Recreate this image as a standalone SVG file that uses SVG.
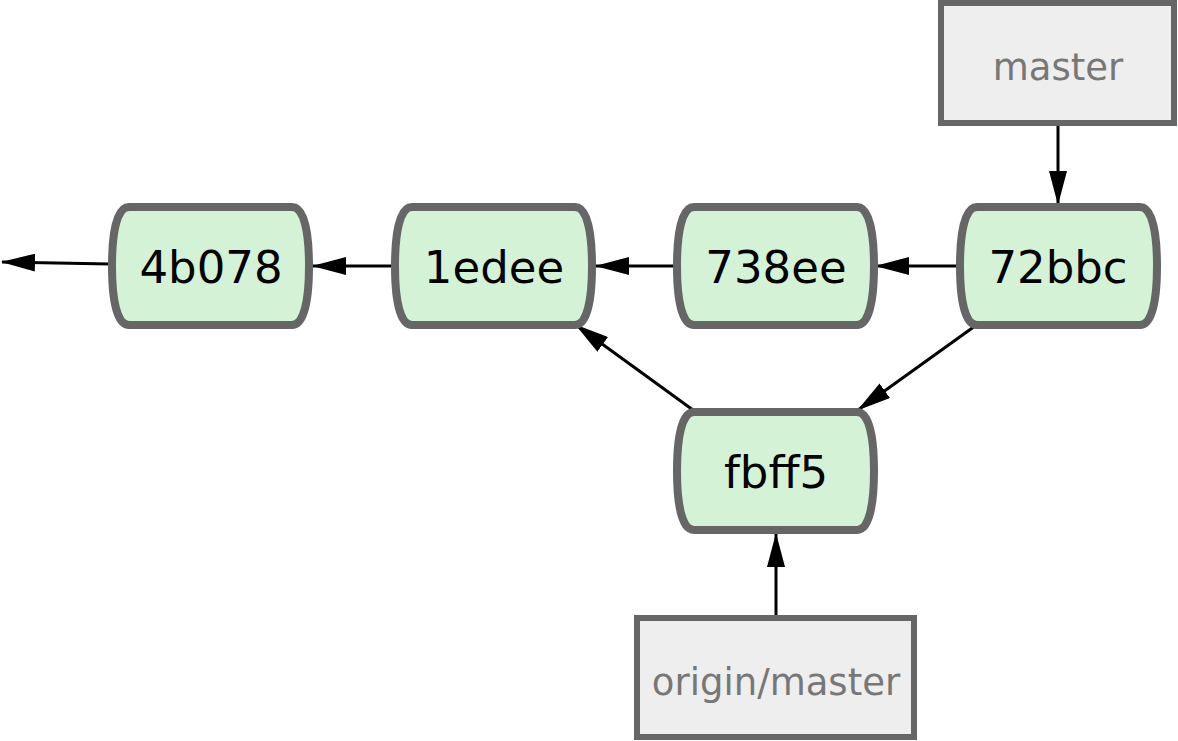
<svg xmlns="http://www.w3.org/2000/svg" width="1178" height="741" viewBox="0 0 1178 741">
<style>
.commit path{fill:#d4f3d6;stroke:#666;stroke-width:8}
.commit text{font-family:"DejaVu Sans",sans-serif;font-size:45px;fill:#000;text-anchor:middle}
.ref rect{fill:#eee;stroke:#666;stroke-width:6}
.ref text{font-family:"DejaVu Sans",sans-serif;font-size:37px;fill:#777;text-anchor:middle}
#edges line{stroke:#000;stroke-width:3;marker-end:url(#ah)}
</style>
<defs>
<marker id="ah" markerUnits="userSpaceOnUse" viewBox="0 0 34 18" refX="33" refY="9" markerWidth="34" markerHeight="18" orient="auto">
<path d="M0,0 L34,9 L0,18 Z" fill="#000"/>
</marker>
</defs>
<rect width="1178" height="741" fill="#fff"/>
<g id="edges">
<line x1="110" y1="264" x2="2" y2="262"/>
<line x1="393" y1="266" x2="313" y2="266"/>
<line x1="676" y1="266" x2="596" y2="266"/>
<line x1="958" y1="266" x2="876" y2="266"/>
<line x1="1058" y1="124" x2="1058" y2="204"/>
<line x1="975" y1="326" x2="858" y2="410"/>
<line x1="693" y1="410" x2="576" y2="325"/>
<line x1="776" y1="617" x2="776" y2="534"/>
</g>
<g id="c4b078" class="commit">
<path d="M129,207 H292 C304,207 309,232 309,266 C309,300 304,325 292,325 H129 C117,325 112,300 112,266 C112,232 117,207 129,207 Z"/>
<text x="211" y="283">4b078</text>
</g>
<g id="c1edee" class="commit">
<path d="M412,207 H575 C587,207 592,232 592,266 C592,300 587,325 575,325 H412 C400,325 395,300 395,266 C395,232 400,207 412,207 Z"/>
<text x="494" y="283">1edee</text>
</g>
<g id="c738ee" class="commit">
<path d="M694,207 H857 C869,207 874,232 874,266 C874,300 869,325 857,325 H694 C682,325 677,300 677,266 C677,232 682,207 694,207 Z"/>
<text x="776" y="283">738ee</text>
</g>
<g id="c72bbc" class="commit">
<path d="M977,207 H1140 C1152,207 1157,232 1157,266 C1157,300 1152,325 1140,325 H977 C965,325 960,300 960,266 C960,232 965,207 977,207 Z"/>
<text x="1058" y="283">72bbc</text>
</g>
<g id="cfbff5" class="commit">
<path d="M694,412 H857 C869,412 874,437 874,471 C874,505 869,530 857,530 H694 C682,530 677,505 677,471 C677,437 682,412 694,412 Z"/>
<text x="776" y="488">fbff5</text>
</g>
<g id="master" class="ref">
<rect x="941" y="3" width="233" height="120"/>
<text x="1058" y="80">master</text>
</g>
<g id="origin-master" class="ref">
<rect x="637" y="618" width="277" height="119"/>
<text x="776" y="695">origin/master</text>
</g>
</svg>
